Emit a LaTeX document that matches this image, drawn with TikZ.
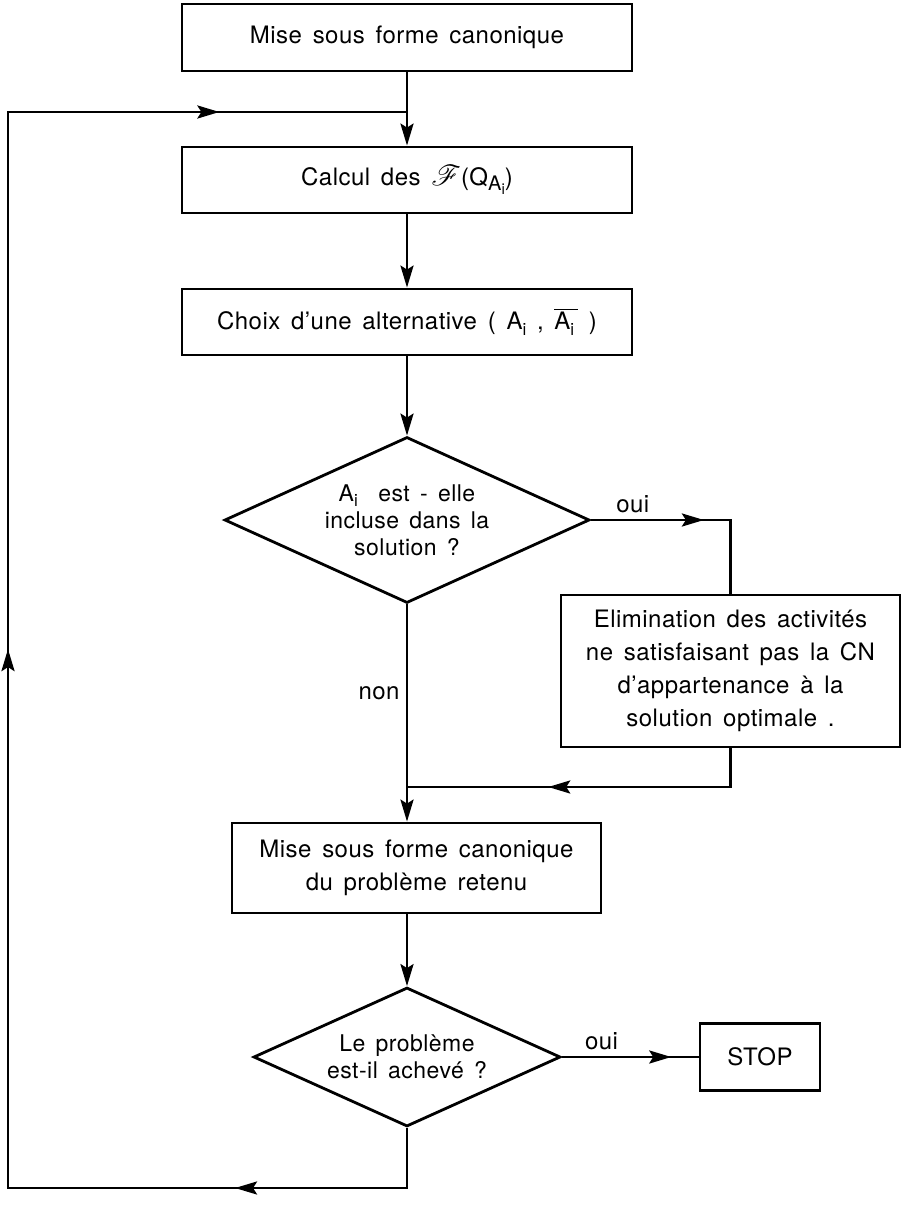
\documentclass[tikz,border=0pt]{standalone}
\usepackage{fontspec}
\setmainfont{TeX Gyre Heros}[LetterSpace=2,WordSpace=1.5]
\usepackage{mathrsfs}
\usetikzlibrary{shapes.geometric,arrows.meta,decorations.markings}

\newcommand{\indA}{A\raisebox{-0.45ex}{\fontsize{8.5}{8.5}\selectfont i}}
\newcommand{\petitA}{\raisebox{-0.4ex}{\fontsize{10}{10}\selectfont A\raisebox{-0.35ex}{\fontsize{7.5}{7.5}\selectfont i}}}

\tikzset{
  pointe/.tip={Stealth[length=11pt,width=6.5pt,inset=2pt]},
  trait/.style={line width=1.4pt},
  bloc/.style={draw,line width=1.4pt,inner sep=0pt,align=center,font=\fontsize{12}{16.5}\selectfont},
  test/.style={draw,diamond,line width=1.4pt,inner sep=0pt},
  txt/.style={align=center,inner sep=0pt,font=\fontsize{11.5}{13.5}\selectfont},
  lbl/.style={inner sep=3pt,font=\fontsize{12}{14}\selectfont},
  fleche/.style={trait,-pointe},
  milieu/.style={trait,postaction={decorate},decoration={markings,mark=at position #1 with {\arrow{pointe}}}},
}

\begin{document}
\begin{tikzpicture}[x=0.5pt,y=-0.5pt]
\useasboundingbox (0,0) rectangle (904,1209);
% blocs
\node[bloc,minimum width=225pt,minimum height=33.5pt] (mfc) at (407,37.5) {Mise sous forme canonique};
\node[bloc,minimum width=225pt,minimum height=33pt] (calc) at (407,180) {Calcul des {\fontsize{15}{15}\selectfont$\mathscr{F}$}(Q\petitA)};
\node[bloc,minimum width=225pt,minimum height=33pt] (choix) at (407,322) {Choix d'une alternative ( \indA\ , $\overline{\mbox{\indA\,}}$ )};
\node[test,minimum width=182.5pt,minimum height=83pt] (incl) at (407,520) {};
\node[txt] (incltxt) at (incl) {\indA\ \ est - elle\\incluse dans la\\solution ?};
\node[bloc,minimum width=169.5pt,minimum height=76pt] (elim) at (730.5,671) {Elimination des activités\\ne satisfaisant pas la CN\\d'appartenance à la\\solution optimale .};
\node[bloc,minimum width=184.5pt,minimum height=45pt] (mfc2) at (416.5,868) {Mise sous forme canonique\\du problème retenu};
\node[test,minimum width=153.5pt,minimum height=69.5pt] (fin) at (407,1057) {};
\node[txt] (fintxt) at (fin) {Le problème\\est-il achevé ?};
\node[bloc,minimum width=60pt,minimum height=33.5pt] (stop) at (760,1057) {STOP};
% points de passage
\coordinate (jonc) at (407,112);
\coordinate (coude) at (elim.north |- incl.east);
\coordinate (retour) at (730.5,787);
\coordinate (fusion) at (407,787);
\coordinate (basd) at (407,1188);
\coordinate (basg) at (8,1188);
\coordinate (hautg) at (8,112);
% liaisons
\draw[fleche] (mfc) -- (calc);
\draw[fleche] (calc) -- (choix);
\draw[fleche] (choix) -- (incl);
\draw[milieu=0.53] (incl.east) -- node[lbl,above,pos=0.3]{oui} (coude) -- (elim.north);
\draw[fleche] (incl.south) -- node[lbl,left,pos=0.41]{non} (incl.south |- mfc2.north);
\draw[milieu=0.61] (elim.south) -- (retour) -- (fusion);
\draw[fleche] (mfc2.south -| fin.north) -- (fin.north);
\draw[milieu=0.8] (fin.east) -- node[lbl,above,pos=0.29]{oui} (stop.west);
% boucle
\draw[trait,postaction={decorate},decoration={markings,
  mark=at position 0.12 with {\arrow{pointe}},
  mark=at position 0.516 with {\arrow{pointe}},
  mark=at position 0.903 with {\arrow{pointe}}}]
  (fin.south) -- (basd) -- (basg) -- (hautg) -- (jonc);
\end{tikzpicture}
\end{document}
